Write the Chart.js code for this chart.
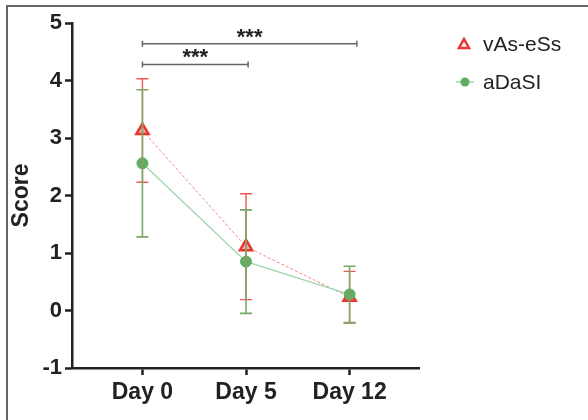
<!DOCTYPE html>
<html>
<head>
<meta charset="utf-8">
<script src="https://cdn.jsdelivr.net/npm/chart.js@4.4.0/dist/chart.umd.min.js"></script>
<style>
  html, body { margin: 0; padding: 0; background: #fff; }
  #wrap { position: relative; width: 588px; height: 420px; }
</style>
</head>
<body>
<div id="wrap"><canvas id="scoreChart" width="588" height="420"></canvas></div>
<script>
// categories and values
const days = ['Day 0', 'Day 5', 'Day 12'];
const seriesNames = ['vAs-eSs', 'aDaSI'];
const vasMean = [3.13, 1.11, 0.23];
const vasSd = [0.90, 0.92, 0.45];
const adasMean = [2.56, 0.85, 0.28];
const adasSd = [1.28, 0.90, 0.49];
const yTicks = [-1, 0, 1, 2, 3, 4, 5];

// significance brackets: from, to (category index), height (score units), label
const brackets = [
  { from: 0, to: 2.07, y: 4.64, label: '***' },
  { from: 0, to: 1.02, y: 4.28, label: '***' }
];

const RED = '#e8352f';
const GREEN = '#5fae62';
const INK = '#222';
const FONT = "'Liberation Sans', Arial, sans-serif";

const toPoints = (arr) => arr.map((v, i) => ({ x: i, y: v }));

// error bars, brackets, frame and legend are drawn through the chart scales
const extras = {
  id: 'extras',
  beforeDraw(chart) {
    const ctx = chart.ctx;
    ctx.save();
    ctx.strokeStyle = '#666';
    ctx.lineWidth = 2;
    ctx.beginPath();
    ctx.moveTo(7, 420);
    ctx.lineTo(7, 6);
    ctx.lineTo(588, 6);
    ctx.stroke();
    ctx.restore();
  },
  afterDatasetsDraw(chart) {
    const ctx = chart.ctx;
    const x = chart.scales.x, y = chart.scales.y;
    const bars = (means, sds, color, width) => {
      ctx.strokeStyle = color;
      ctx.lineWidth = width;
      means.forEach((m, i) => {
        const px = x.getPixelForValue(i);
        const top = y.getPixelForValue(m + sds[i]);
        const bot = y.getPixelForValue(m - sds[i]);
        ctx.beginPath();
        ctx.moveTo(px, top); ctx.lineTo(px, bot);
        ctx.moveTo(px - 6, top); ctx.lineTo(px + 6, top);
        ctx.moveTo(px - 6, bot); ctx.lineTo(px + 6, bot);
        ctx.stroke();
      });
    };
    ctx.save();
    bars(vasMean, vasSd, '#ea5a50', 1.4);
    bars(adasMean, adasSd, '#7aa86a', 1.6);

    // significance brackets
    brackets.forEach(b => {
      const x0 = x.getPixelForValue(b.from);
      const x1 = x.getPixelForValue(b.to);
      const py = y.getPixelForValue(b.y);
      ctx.strokeStyle = '#666';
      ctx.lineWidth = 1.5;
      ctx.beginPath();
      ctx.moveTo(x0, py); ctx.lineTo(x1, py);
      ctx.moveTo(x0, py - 3); ctx.lineTo(x0, py + 3);
      ctx.moveTo(x1, py - 3); ctx.lineTo(x1, py + 3);
      ctx.stroke();
      ctx.fillStyle = INK;
      ctx.font = 'bold 22px ' + FONT;
      ctx.textAlign = 'center';
      ctx.textBaseline = 'alphabetic';
      ctx.fillText(b.label, (x0 + x1) / 2, py);
    });

    // legend
    ctx.font = '21px ' + FONT;
    ctx.textAlign = 'left';
    ctx.textBaseline = 'middle';
    ctx.fillStyle = INK;
    ctx.fillText(seriesNames[0], 483, 45);
    ctx.fillText(seriesNames[1], 483, 83);
    ctx.strokeStyle = RED;
    ctx.lineWidth = 2.5;
    ctx.fillStyle = '#fff';
    ctx.beginPath();
    ctx.moveTo(464, 39); ctx.lineTo(469, 48); ctx.lineTo(459, 48); ctx.closePath();
    ctx.fill(); ctx.stroke();
    ctx.strokeStyle = '#9fd4ac';
    ctx.lineWidth = 1.5;
    ctx.beginPath();
    ctx.moveTo(456, 82); ctx.lineTo(474, 82);
    ctx.stroke();
    ctx.fillStyle = GREEN;
    ctx.beginPath();
    ctx.arc(465, 82, 4.5, 0, Math.PI * 2);
    ctx.fill();
    ctx.restore();
  }
};

new Chart(document.getElementById('scoreChart'), {
  type: 'line',
  data: {
    datasets: [
      {
        label: seriesNames[1],
        data: toPoints(adasMean),
        borderColor: '#9fd4ac',
        borderWidth: 1.3,
        backgroundColor: GREEN,
        pointBackgroundColor: GREEN,
        pointBorderColor: GREEN,
        pointRadius: 5.5,
        pointBorderWidth: 1,
        tension: 0
      },
      {
        label: seriesNames[0],
        data: toPoints(vasMean),
        borderColor: '#f08a8a',
        borderWidth: 1,
        borderDash: [3, 2],
        pointStyle: 'triangle',
        pointBackgroundColor: '#f7b0aa',
        pointBorderColor: RED,
        pointBorderWidth: 2.5,
        pointRadius: 7,
        tension: 0
      }
    ]
  },
  options: {
    responsive: false,
    animation: false,
    layout: { padding: { left: 0, top: 23, right: 169, bottom: 0 } },
    plugins: {
      legend: { display: false },
      tooltip: { enabled: false }
    },
    scales: {
      x: {
        type: 'linear',
        min: -0.68,
        max: 2.67,
        afterBuildTicks: (scale) => { scale.ticks = days.map((d, i) => ({ value: i })); },
        afterFit: (scale) => { scale.height = 52; },
        ticks: {
          color: INK,
          font: { family: FONT, size: 23, weight: 'bold' },
          padding: 4,
          maxRotation: 0,
          callback: (v) => days[v]
        },
        grid: { drawOnChartArea: false, drawTicks: true, tickLength: 7, tickWidth: 2.5, tickColor: INK },
        border: { display: true, color: INK, width: 2.5 }
      },
      y: {
        min: -1,
        max: 5,
        afterBuildTicks: (scale) => { scale.ticks = yTicks.map(v => ({ value: v })); },
        afterFit: (scale) => { scale.width = 72; },
        ticks: {
          color: INK,
          font: { family: FONT, size: 22, weight: 'bold' },
          padding: 3
        },
        title: {
          display: true,
          text: 'Score',
          color: INK,
          font: { family: FONT, size: 23, weight: 'bold' },
          padding: { top: 8, bottom: 0 }
        },
        grid: { drawOnChartArea: false, drawTicks: true, tickLength: 7, tickWidth: 2.5, tickColor: INK },
        border: { display: true, color: INK, width: 2.5 }
      }
    }
  },
  plugins: [extras]
});
</script>
</body>
</html>
